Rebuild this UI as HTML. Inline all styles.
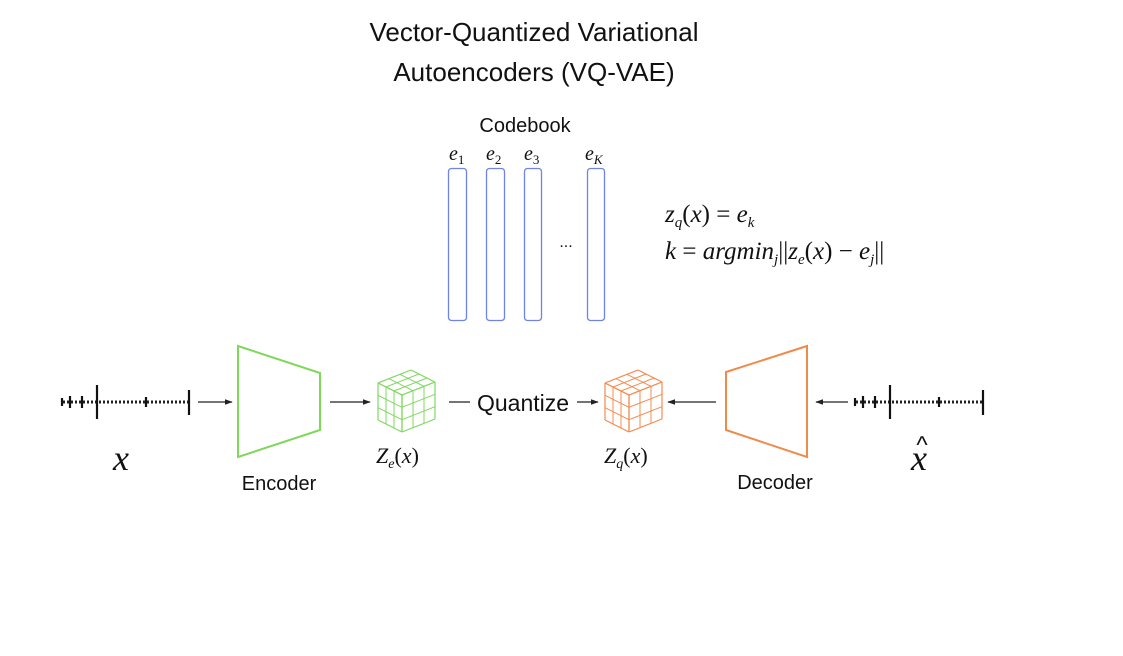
<!DOCTYPE html>
<html><head><meta charset="utf-8"><style>
html,body{margin:0;padding:0;background:#fff;}
svg{display:block;}
text{font-family:"Liberation Sans",sans-serif;}
.m text, text.m{font-family:"Liberation Serif",serif;font-style:italic;}
</style></head><body>
<svg id="s" width="1123" height="656" viewBox="0 0 1123 656" xmlns="http://www.w3.org/2000/svg">
<defs><marker id="ar" viewBox="0 0 10 10" refX="9" refY="5" markerWidth="6" markerHeight="6" orient="auto-start-reverse"><path d="M0,1.5 L10,5 L0,8.5 z" fill="#222"/></marker></defs>
<text x="534" y="41" font-size="26" text-anchor="middle" fill="#111">Vector-Quantized Variational</text>
<text x="534" y="81" font-size="26" text-anchor="middle" fill="#111">Autoencoders (VQ-VAE)</text>
<text x="525" y="132" font-size="20" text-anchor="middle" fill="#111">Codebook</text>
<g class="m" font-size="20" fill="#111">
<text x="449" y="160">e<tspan font-size="13" font-style="normal" dy="4">1</tspan></text>
<text x="486" y="160">e<tspan font-size="13" font-style="normal" dy="4">2</tspan></text>
<text x="524" y="160">e<tspan font-size="13" font-style="normal" dy="4">3</tspan></text>
<text x="585" y="160">e<tspan font-size="13" dy="4">K</tspan></text>
</g>
<g fill="none" stroke="#6f84e6" stroke-width="1.3">
<rect x="448.5" y="168.5" width="18" height="152" rx="3"/>
<rect x="486.5" y="168.5" width="18" height="152" rx="3"/>
<rect x="524.5" y="168.5" width="17" height="152" rx="3"/>
<rect x="587.5" y="168.5" width="17" height="152" rx="3"/>
</g>
<text x="566" y="247" font-size="16" text-anchor="middle" fill="#111">...</text>
<g class="m" font-size="25" fill="#111">
<text x="665" y="222">z<tspan font-size="15" dy="5">q</tspan><tspan dy="-5" font-style="normal">(</tspan>x<tspan font-style="normal">) = </tspan>e<tspan font-size="15" dy="5">k</tspan></text>
<text x="665" y="259">k<tspan font-style="normal"> = </tspan>argmin<tspan font-size="15" dy="5">j</tspan><tspan dy="-5" font-style="normal">||</tspan>z<tspan font-size="15" dy="5">e</tspan><tspan dy="-5" font-style="normal">(</tspan>x<tspan font-style="normal">) − </tspan>e<tspan font-size="15" dy="5">j</tspan><tspan dy="-5" font-style="normal">||</tspan></text>
</g>
<polygon points="238,346 320,373 320,430 238,457" fill="none" stroke="#7fd85a" stroke-width="2"/>
<polygon points="807,346 726,372 726,430 807,457" fill="none" stroke="#f08a4b" stroke-width="2"/>
<text x="279" y="490" font-size="20" text-anchor="middle" fill="#111">Encoder</text>
<text x="775" y="489" font-size="20" text-anchor="middle" fill="#111">Decoder</text>
<g stroke="#222" stroke-width="1.3" marker-end="url(#ar)">
<line x1="198" y1="402" x2="232" y2="402"/>
<line x1="330" y1="402" x2="370" y2="402"/>
<line x1="577" y1="402" x2="598" y2="402"/>
<line x1="716" y1="402" x2="668" y2="402"/>
<line x1="848" y1="402" x2="816" y2="402"/>
</g>
<line x1="449" y1="402" x2="470" y2="402" stroke="#222" stroke-width="1.3"/>
<text x="523" y="411" font-size="23" text-anchor="middle" fill="#111">Quantize</text>
<text x="121" y="470" class="m" font-size="36" text-anchor="middle" fill="#111">x</text>
<text x="919" y="470" class="m" font-size="36" text-anchor="middle" fill="#111">x</text>
<text x="922" y="453" font-size="24" text-anchor="middle" fill="#111">^</text>
<g class="m" font-size="22" fill="#111">
<text x="376" y="463">Z<tspan font-size="14" dy="5">e</tspan><tspan dy="-5" font-style="normal">(</tspan>x<tspan font-style="normal">)</tspan></text>
<text x="604" y="463">Z<tspan font-size="14" dy="5">q</tspan><tspan dy="-5" font-style="normal">(</tspan>x<tspan font-style="normal">)</tspan></text>
</g>
</svg>
<script>
var s=document.getElementById('s'),NS="http://www.w3.org/2000/svg";
function ln(x1,y1,x2,y2,c,w){var l=document.createElementNS(NS,'line');l.setAttribute('x1',x1);l.setAttribute('y1',y1);l.setAttribute('x2',x2);l.setAttribute('y2',y2);l.setAttribute('stroke',c);l.setAttribute('stroke-width',w);s.appendChild(l);}
function lerp(a,b,t){return [a[0]+(b[0]-a[0])*t,a[1]+(b[1]-a[1])*t];}
function face(p0,p1,p2,p3,c){
 var P=[p0,p1,p2,p3];for(var i=0;i<4;i++){var a=P[i],b=P[(i+1)%4];ln(a[0],a[1],b[0],b[1],c,1.2);}
 for(var k=1;k<3;k++){var t=k/3;var a=lerp(p0,p1,t),b=lerp(p3,p2,t);ln(a[0],a[1],b[0],b[1],c,1);a=lerp(p0,p3,t);b=lerp(p1,p2,t);ln(a[0],a[1],b[0],b[1],c,1);}
}
function cube(dx,c){var L=[378+dx,383],B=[411+dx,370],R=[435+dx,382],F=[402+dx,395],h=37;
 face(L,B,R,F,c);face(L,F,[F[0],F[1]+h],[L[0],L[1]+h],c);face(F,R,[R[0],R[1]+h],[F[0],F[1]+h],c);}
cube(0,'#80d860');cube(227,'#f38c50');
function wave(x0,tall,end){
 for(var x=x0+2;x<end;x+=4){ln(x,400.5,x,403.5,'#222',2);}
 [[x0,398,406],[x0+8,396,408],[x0+20,396,408],[tall,385,419],[x0+84,397,407],[end,390,415]].forEach(function(b){ln(b[0],b[1],b[0],b[2],'#111',2.2);});
}
wave(62,97,189);wave(855,890,983);
</script>
</body></html>
